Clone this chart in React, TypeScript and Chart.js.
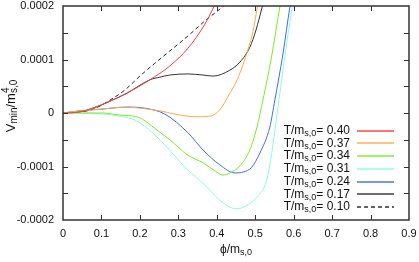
import { useEffect, useRef } from 'react';
import { Chart, registerables } from 'chart.js';

Chart.register(...registerables);

// Temperature labels (legend)
const tLabels = ['0.40', '0.37', '0.34', '0.31', '0.24', '0.17', '0.10'];
const colors = ['#ff3b3b', '#ffaa44', '#77ee22', '#88ffdd', '#4466ff', '#333333', '#222222'];

// values in units of 1e-4
const phi040 = [0, 0.044, 0.078, 0.122, 0.166, 0.226, 0.278, 0.325, 0.369, 0.395, 0.408];
const v040 = [0, 0.02, 0.09, 0.22, 0.37, 0.62, 0.88, 1.21, 1.66, 2.02, 2.21];

const phi037 = [0, 0.044, 0.096, 0.166, 0.2, 0.252, 0.291, 0.325, 0.351, 0.382, 0.408, 0.434, 0.453, 0.468, 0.481, 0.495, 0.505, 0.512];
const v037 = [0, 0.04, 0.07, 0.11, 0.09, 0.04, -0.02, -0.06, -0.07, -0.06, 0.06, 0.37, 0.62, 0.9, 1.18, 1.55, 1.96, 2.25];

const phi034 = [0, 0.044, 0.104, 0.148, 0.192, 0.252, 0.278, 0.325, 0.364, 0.395, 0.416, 0.434, 0.46, 0.486, 0.504, 0.52, 0.542, 0.564, 0.57];
const v034 = [0, 0, 0, -0.04, -0.07, -0.36, -0.5, -0.79, -0.93, -1.08, -1.16, -1.12, -0.99, -0.69, -0.28, 0.24, 1.03, 1.98, 2.21];

const phi031 = [0, 0.044, 0.104, 0.148, 0.192, 0.252, 0.325, 0.364, 0.408, 0.434, 0.452, 0.475, 0.504, 0.53, 0.545, 0.558, 0.577, 0.596, 0.602];
const v031 = [0, 0, -0.02, -0.06, -0.15, -0.5, -1.07, -1.31, -1.63, -1.76, -1.79, -1.74, -1.57, -1.25, -0.65, 0.05, 1.05, 1.98, 2.25];

const phi024 = [0, 0.044, 0.096, 0.166, 0.213, 0.265, 0.325, 0.364, 0.408, 0.447, 0.47, 0.49, 0.512, 0.538, 0.551, 0.572, 0.59, 0.596];
const v024 = [0, 0.04, 0.07, 0.11, 0.09, -0.02, -0.37, -0.69, -0.97, -1.12, -1.1, -1.02, -0.75, -0.26, 0.24, 1.1, 1.98, 2.25];

const phi017 = [0, 0.044, 0.078, 0.122, 0.166, 0.226, 0.252, 0.278, 0.325, 0.364, 0.39, 0.434, 0.46, 0.486, 0.502, 0.518, 0.525];
const v017 = [0, 0.02, 0.09, 0.22, 0.37, 0.62, 0.67, 0.71, 0.73, 0.71, 0.69, 0.8, 0.95, 1.23, 1.55, 1.98, 2.17];

const phi010 = [0, 0.044, 0.078, 0.122, 0.161, 0.2, 0.239, 0.278, 0.325, 0.369, 0.421, 0.434];
const v010 = [0, 0.02, 0.07, 0.24, 0.43, 0.69, 0.93, 1.16, 1.44, 1.72, 2.02, 2.11];

const seriesPhi = [phi040, phi037, phi034, phi031, phi024, phi017, phi010];
const seriesV = [v040, v037, v034, v031, v024, v017, v010];

type Part = { t: string; s: number; dy: number; stack?: boolean };

function partsWidth(ctx: CanvasRenderingContext2D, parts: Part[], fam: string) {
  let w = 0;
  let lastW = 0;
  for (const p of parts) {
    ctx.font = `${p.s}px ${fam}`;
    const mw = ctx.measureText(p.t).width;
    if (p.stack) {
      w += Math.max(0, mw - lastW);
      lastW = Math.max(lastW, mw);
    } else {
      w += mw;
      lastW = mw;
    }
  }
  return w;
}

function drawParts(ctx: CanvasRenderingContext2D, parts: Part[], x: number, y: number, fam: string) {
  let cx = x;
  let lastX = x;
  for (const p of parts) {
    ctx.font = `${p.s}px ${fam}`;
    const mw = ctx.measureText(p.t).width;
    if (p.stack) {
      ctx.fillText(p.t, lastX, y + p.dy);
      cx = Math.max(cx, lastX + mw);
    } else {
      lastX = cx;
      ctx.fillText(p.t, cx, y + p.dy);
      cx += mw;
    }
  }
}

const FAM = '"Liberation Sans", Arial, sans-serif';

const framePlugin = {
  id: 'frame',
  afterDatasetsDraw(chart: any) {
    const ctx: CanvasRenderingContext2D = chart.ctx;
    const { left, right, top, bottom } = chart.chartArea;
    const xs = chart.scales.x;
    const ys = chart.scales.y;
    ctx.save();
    ctx.setLineDash([]);
    ctx.strokeStyle = '#333';
    ctx.lineWidth = 1.5;
    ctx.strokeRect(left, top, right - left, bottom - top);
    ctx.lineWidth = 1;
    ctx.beginPath();
    const tl = 5;
    for (const t of xs.ticks) {
      const px = Math.round(xs.getPixelForValue(t.value)) + 0.5;
      if (px <= left + 1 || px >= right - 1) continue;
      ctx.moveTo(px, bottom);
      ctx.lineTo(px, bottom - tl);
      ctx.moveTo(px, top);
      ctx.lineTo(px, top + tl);
    }
    for (const t of ys.ticks) {
      const py = Math.round(ys.getPixelForValue(t.value)) + 0.5;
      if (py <= top + 1 || py >= bottom - 1) continue;
      ctx.moveTo(left, py);
      ctx.lineTo(left + tl, py);
      ctx.moveTo(right, py);
      ctx.lineTo(right - tl, py);
    }
    ctx.stroke();

    // legend
    ctx.textBaseline = 'middle';
    ctx.textAlign = 'left';
    const textRight = 350;
    const rowY0 = 130.5;
    const rowStep = 12.75;
    tLabels.forEach((lab, i) => {
      const y = rowY0 + i * rowStep;
      const parts: Part[] = [
        { t: 'T/m', s: 12, dy: 0 },
        { t: 's,0', s: 9, dy: 3 },
        { t: '= ' + lab, s: 12, dy: 0 },
      ];
      ctx.fillStyle = '#111';
      const w = partsWidth(ctx, parts, FAM);
      drawParts(ctx, parts, textRight - w, y, FAM);
      ctx.fillStyle = colors[i];
      const ly = Math.round(y) - 0.7;
      if (i === 6) {
        for (let sx = 357; sx < 394; sx += 7) ctx.fillRect(sx, ly, Math.min(4, 394 - sx), 1.4);
      } else {
        ctx.fillRect(357, ly, 37, 1.4);
      }
    });

    // x title
    ctx.fillStyle = '#111';
    const xParts: Part[] = [
      { t: '\u03D5/m', s: 12, dy: 0 },
      { t: 's,0', s: 9, dy: 3 },
    ];
    const xw = partsWidth(ctx, xParts, FAM);
    drawParts(ctx, xParts, (left + right) / 2 - xw / 2, 250, FAM);

    // y title
    ctx.save();
    ctx.translate(11, 106);
    ctx.rotate(-Math.PI / 2);
    const yParts: Part[] = [
      { t: 'V', s: 13, dy: 0 },
      { t: 'min', s: 10, dy: 3 },
      { t: '/m', s: 13, dy: 0 },
      { t: 's,0', s: 10, dy: 3 },
      { t: '4', s: 10, dy: -5, stack: true },
    ];
    const yw = partsWidth(ctx, yParts, FAM);
    drawParts(ctx, yParts, -yw / 2, 0, FAM);
    ctx.restore();

    ctx.restore();
  },
};

export default function App() {
  const ref = useRef<HTMLCanvasElement | null>(null);
  useEffect(() => {
    if (!ref.current) return;
    const datasets = tLabels.map((lab, i) => ({
      label: 'T/m_s,0= ' + lab,
      data: seriesPhi[i].map((x, k) => ({ x, y: seriesV[i][k] * 1e-4 })),
      borderColor: colors[i],
      borderWidth: 1,
      borderDash: i === 6 ? [4, 3] : [],
      pointRadius: 0,
      fill: false,
      cubicInterpolationMode: 'monotone' as const,
    }));
    const chart = new Chart(ref.current, {
      type: 'line',
      data: { datasets },
      options: {
        animation: false,
        responsive: false,
        devicePixelRatio: 1,
        layout: { padding: { left: 0, right: 10, top: 6, bottom: 0 } },
        plugins: { legend: { display: false }, tooltip: { enabled: false } },
        scales: {
          x: {
            type: 'linear',
            min: 0,
            max: 0.9,
            grid: { display: false, drawTicks: false },
            border: { display: false },
            ticks: {
              stepSize: 0.1,
              padding: 7,
              color: '#111',
              font: { family: FAM, size: 11 },
              callback: (v: any) => String(Number(Number(v).toFixed(1))),
            },
            afterFit: (s: any) => {
              s.height = 42;
              s.paddingLeft = 0;
              s.paddingRight = 0;
            },
          },
          y: {
            type: 'linear',
            min: -0.0002,
            max: 0.0002,
            grid: { display: false, drawTicks: false },
            border: { display: false },
            ticks: {
              stepSize: 0.00005,
              padding: 9,
              color: '#111',
              font: { family: FAM, size: 11 },
              callback: (v: any) => {
                const n = Math.round(Number(v) / 0.00005);
                if (n % 2 !== 0) return '';
                return String(Number(Number(v).toFixed(4)));
              },
            },
            afterFit: (s: any) => {
              s.width = 63;
              s.paddingTop = 0;
              s.paddingBottom = 0;
            },
          },
        },
      },
      plugins: [framePlugin],
    });
    return () => chart.destroy();
  }, []);
  return (
    <div style={{ position: 'absolute', left: 0, top: 0, width: 419, height: 262, background: '#fff' }}>
      <canvas ref={ref} width={419} height={262} />
    </div>
  );
}
